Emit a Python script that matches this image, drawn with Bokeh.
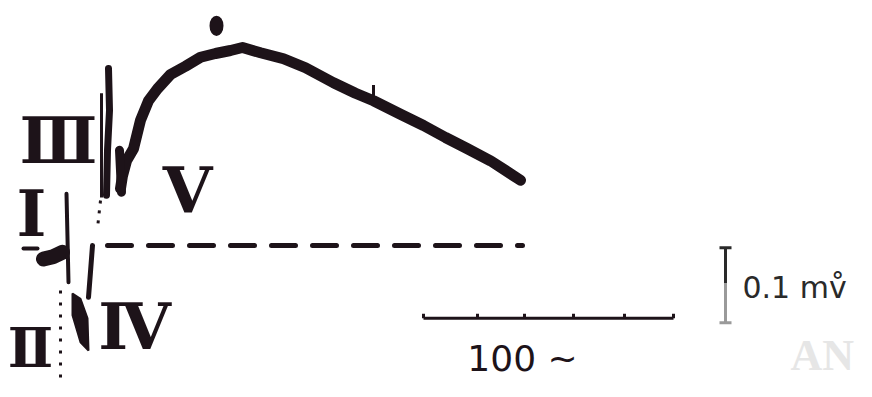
from bokeh.plotting import figure
from bokeh.models import Range1d
from bokeh.embed import file_html
from bokeh.resources import INLINE
from bokeh.core.properties import value

# ---- data (time in ms, potential in microvolts; baseline = 0) ----
trace_t = [4.0, 4.4, 5.2, 6.6, 8.0, 9.6, 11.4, 14.0, 17.0, 20.0, 23.0, 26.0, 28.4,
           32.0, 36.6, 41.0, 46.6, 51.0, 54.6, 60.0, 64.6, 69.0, 73.4, 78.0, 84.0]
trace_v = [76, 93, 113, 129, 167, 193, 209, 228, 239, 251, 256, 260, 264,
           257, 249, 237, 217, 203, 193, 175, 160, 144, 129, 113, 87]

trough_t = [3.8, 4.0, 4.2]
trough_v = [127, 100, 71]

spike3_t = [1.2, 1.4, 1.8, 1.6]
spike3_v = [67, 127, 180, 236]
thin3_t = [0.2, 0.2]
thin3_v = [203, 64]

dot_desc_t = [0.0, -0.6]
dot_desc_v = [60, 23]
stroke4_t = [-1.6, -2.0, -2.4]
stroke4_v = [0, -35, -69]

wave1_line_t = [-6.8, -6.6, -6.4]
wave1_line_v = [69, 10, -49]
wave1_blob_t = [-11.4, -9.5, -7.6]
wave1_blob_v = [-18, -15, -9]

wave4_t = [-5.6, -4.0, -2.6, -2.4, -4.0, -5.6]
wave4_v = [-64, -71, -97, -140, -129, -93]

dotted2_t = [-8.0, -8.0]
dotted2_v = [-60, -200]

left_dash_t = [-15.4, -12.6]
left_dash_v = [-4, -4]

baseline_t = [1.4, 84.4]
baseline_v = [0, 0]

mark_t = [23.2]
mark_v = [293]

spike_t = [54.6, 54.6]
spike_v = [193, 214]

time_bar_t = [64.6, 114.6]
time_bar_v = [-97, -97]
time_ticks = [64.6, 75.4, 84.8, 94.6, 104.8, 114.6]
cal_mv_t = 125.0
cal_mv_top, cal_mv_mid, cal_mv_bot = -3, -50, -103

labels = ["Ⅲ", "Ⅴ", "Ⅰ", "Ⅳ"]
label_t = [-8.4, 17.4, -13.8, 6.8]
label_v = [140, 73, 43, -108]
label_ii = "Ⅱ"
label_ii_t = -14.0
label_ii_v = -137

INK = "#1d1319"

p = figure(width=856, height=381, x_range=Range1d(-20.0, 151.2), y_range=Range1d(-181.33, 326.67),
           output_backend="svg", toolbar_location=None, min_border=0)
p.axis.visible = False
p.grid.visible = False
p.outline_line_color = None
p.background_fill_color = "white"
p.border_fill_color = "white"

# faint archive watermark
p.text(x=[138.0], y=[-147], text=["AN"], text_font=value("Liberation Serif"), text_font_style="bold",
       text_font_size="44px", text_color="#e6e6e6", text_align="left", text_baseline="middle")

# main trace
p.line(trace_t, trace_v, line_width=11, line_color=INK, line_join="round", line_cap="round")
p.line(trough_t, trough_v, line_width=9, line_color=INK, line_cap="round")
p.line(spike_t, spike_v, line_width=3, line_color=INK)
p.ellipse(x=mark_t, y=mark_v, width=2.8, height=27, fill_color=INK, line_color=None)

# early waves
p.line(spike3_t, spike3_v, line_width=7, line_color=INK, line_cap="round")
p.line(thin3_t, thin3_v, line_width=3, line_color=INK)
p.line(dot_desc_t, dot_desc_v, line_width=3, line_color=INK, line_dash="3 7")
p.line(stroke4_t, stroke4_v, line_width=5, line_color=INK, line_cap="round")
p.line(wave1_line_t, wave1_line_v, line_width=4, line_color=INK, line_cap="round")
p.line(wave1_blob_t, wave1_blob_v, line_width=15, line_color=INK, line_cap="round")
p.patch(wave4_t, wave4_v, fill_color=INK, line_color=INK, line_width=2)
p.line(dotted2_t, dotted2_v, line_width=3, line_color=INK, line_dash="3 9")
p.line(left_dash_t, left_dash_v, line_width=4, line_color=INK, line_cap="round")

# baseline
p.line(baseline_t, baseline_v, line_width=5, line_color=INK, line_dash="24 17", line_cap="round")

# time calibration
p.line(time_bar_t, time_bar_v, line_width=3, line_color=INK)
p.segment(x0=time_ticks, y0=[time_bar_v[0]] * len(time_ticks), x1=time_ticks,
          y1=[time_bar_v[0] + 6] * len(time_ticks), line_width=3, line_color=INK)
p.text(x=[84.4], y=[-151], text=["100 ~"], text_font=value("DejaVu Sans"),
       text_font_size="36px", text_color=INK, text_align="center", text_baseline="middle")

# voltage calibration
p.segment(x0=[cal_mv_t], y0=[cal_mv_top], x1=[cal_mv_t], y1=[cal_mv_mid], line_width=3, line_color="#2a2a2a")
p.segment(x0=[cal_mv_t], y0=[cal_mv_mid], x1=[cal_mv_t], y1=[cal_mv_bot], line_width=3, line_color="#9a9a9a")
p.segment(x0=[cal_mv_t - 1.2], y0=[cal_mv_top], x1=[cal_mv_t + 1.2], y1=[cal_mv_top], line_width=3, line_color="#2a2a2a")
p.segment(x0=[cal_mv_t - 1.2], y0=[cal_mv_bot], x1=[cal_mv_t + 1.2], y1=[cal_mv_bot], line_width=3, line_color="#9a9a9a")
p.text(x=[128.4], y=[-56], text=["0.1 mv̊"], text_font=value("DejaVu Sans"),
       text_font_size="30px", text_color="#2a2a2a", text_align="left", text_baseline="middle")

# roman numeral labels
p.text(x=label_t, y=label_v, text=labels, text_font=value("DejaVu Serif"), text_font_style="bold",
       text_font_size="64px", text_color=INK, text_align="center", text_baseline="middle")
p.text(x=[label_ii_t], y=[label_ii_v], text=[label_ii], text_font=value("DejaVu Serif"), text_font_style="bold",
       text_font_size="54px", text_color=INK, text_align="center", text_baseline="middle")

open("out.html", "w").write(file_html(p, INLINE))
